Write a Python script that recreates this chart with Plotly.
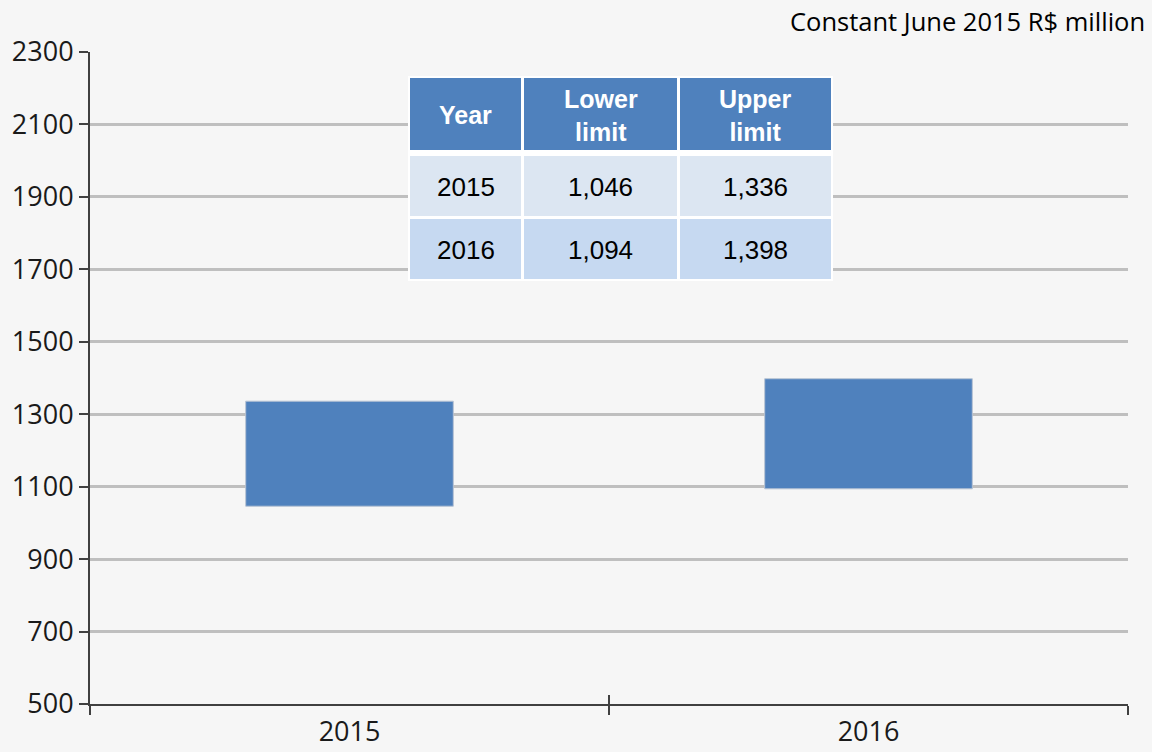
import plotly.graph_objects as go

years = ["2015", "2016"]
lower = [1046, 1094]
upper = [1336, 1398]
lower_txt = ["1,046", "1,094"]
upper_txt = ["1,336", "1,398"]
header_txt = ["Year", "Lower<br>limit", "Upper<br>limit"]
yticks = [500, 700, 900, 1100, 1300, 1500, 1700, 1900, 2100, 2300]

BLUE = "#4f81bd"
ROW_FILLS = ["#dce6f2", "#c6d9f1"]
W, H = 1152, 752
L, R, T, B = 90, 24, 52, 48
pw, ph = W - L - R, H - T - B

# table layout (pixels)
TAB_BOX = (408, 76, 833, 281)
COL_X = [(410, 521), (524, 677), (680, 831)]
ROW_Y = [(78, 150), (156, 216), (219, 279)]


def px_x(x):
    return (x - L) / pw


def px_y(y):
    return 1 - (y - T) / ph


fig = go.Figure()
fig.add_trace(go.Bar(
    x=years,
    y=[u - l for u, l in zip(upper, lower)],
    base=lower,
    width=0.4,
    marker=dict(color=BLUE, line=dict(color="#b8c4d4", width=1)),
    hoverinfo="skip",
    showlegend=False,
))
# helper trace so the crossing-tick overlay axis is drawn
fig.add_trace(go.Scatter(x=years, y=[None, None], xaxis="x2", showlegend=False,
                         hoverinfo="skip"))

shapes = []
annotations = []

# table: white frame, then cells
shapes.append(dict(type="rect", xref="paper", yref="paper", layer="above",
                   x0=px_x(TAB_BOX[0]), x1=px_x(TAB_BOX[2]),
                   y0=px_y(TAB_BOX[3]), y1=px_y(TAB_BOX[1]),
                   fillcolor="white", line=dict(width=0)))
columns = [years, lower_txt, upper_txt]
rows = [header_txt] + [[columns[c][r] for c in range(3)] for r in range(len(years))]
for ri, row in enumerate(rows):
    y0, y1 = ROW_Y[ri]
    fill = BLUE if ri == 0 else ROW_FILLS[(ri - 1) % 2]
    for ci, txt in enumerate(row):
        x0, x1 = COL_X[ci]
        shapes.append(dict(type="rect", xref="paper", yref="paper", layer="above",
                           x0=px_x(x0), x1=px_x(x1), y0=px_y(y1), y1=px_y(y0),
                           fillcolor=fill, line=dict(width=0)))
        if ri == 0:
            text = "<b>%s</b>" % txt
            font = dict(family="Liberation Sans, Arial, sans-serif", size=25, color="white")
        else:
            text = txt
            font = dict(family="Liberation Sans, Arial, sans-serif", size=26, color="black")
        annotations.append(dict(
            text=text, xref="paper", yref="paper",
            x=px_x((x0 + x1) / 2), y=px_y((y0 + y1) / 2 + 1),
            xanchor="center", yanchor="middle", showarrow=False, font=font,
        ))

annotations.append(dict(
    text="Constant June 2015 R$ million",
    xref="paper", yref="paper",
    x=px_x(1147), y=px_y(21),
    xanchor="right", yanchor="middle",
    showarrow=False,
    font=dict(family="Open Sans, sans-serif", size=25.5, color="black"),
))

axis_font = dict(family="Open Sans, sans-serif", size=27, color="#1a1a1a")
xcommon = dict(
    type="category",
    range=[-0.5, 1.5],
    tickson="boundaries",
    ticklen=9,
    tickwidth=2,
    tickcolor="#404040",
    showgrid=False,
    zeroline=False,
    automargin=False,
)
fig.update_layout(
    width=W, height=H,
    margin=dict(l=L, r=R, t=T, b=B),
    paper_bgcolor="#f6f6f6",
    plot_bgcolor="#f6f6f6",
    xaxis=dict(
        **xcommon,
        ticks="outside",
        showline=True,
        linecolor="#404040",
        linewidth=2,
        tickfont=axis_font,
        ticklabelstandoff=3,
    ),
    xaxis2=dict(
        **xcommon,
        overlaying="x",
        anchor="y",
        side="bottom",
        ticks="inside",
        showticklabels=False,
        showline=False,
    ),
    yaxis=dict(
        range=[500, 2300],
        tickvals=yticks,
        ticks="outside",
        ticklen=9,
        tickwidth=2,
        tickcolor="#404040",
        showline=True,
        linecolor="#404040",
        linewidth=2,
        showgrid=True,
        gridcolor="#bfbfbf",
        gridwidth=2.5,
        tickfont=axis_font,
        zeroline=False,
        automargin=False,
    ),
    shapes=shapes,
    annotations=annotations,
)

fig.write_html(
    "out.html",
    config={"displayModeBar": False},
    post_script="document.body.style.margin='0';document.body.style.background='#f6f6f6';",
)
